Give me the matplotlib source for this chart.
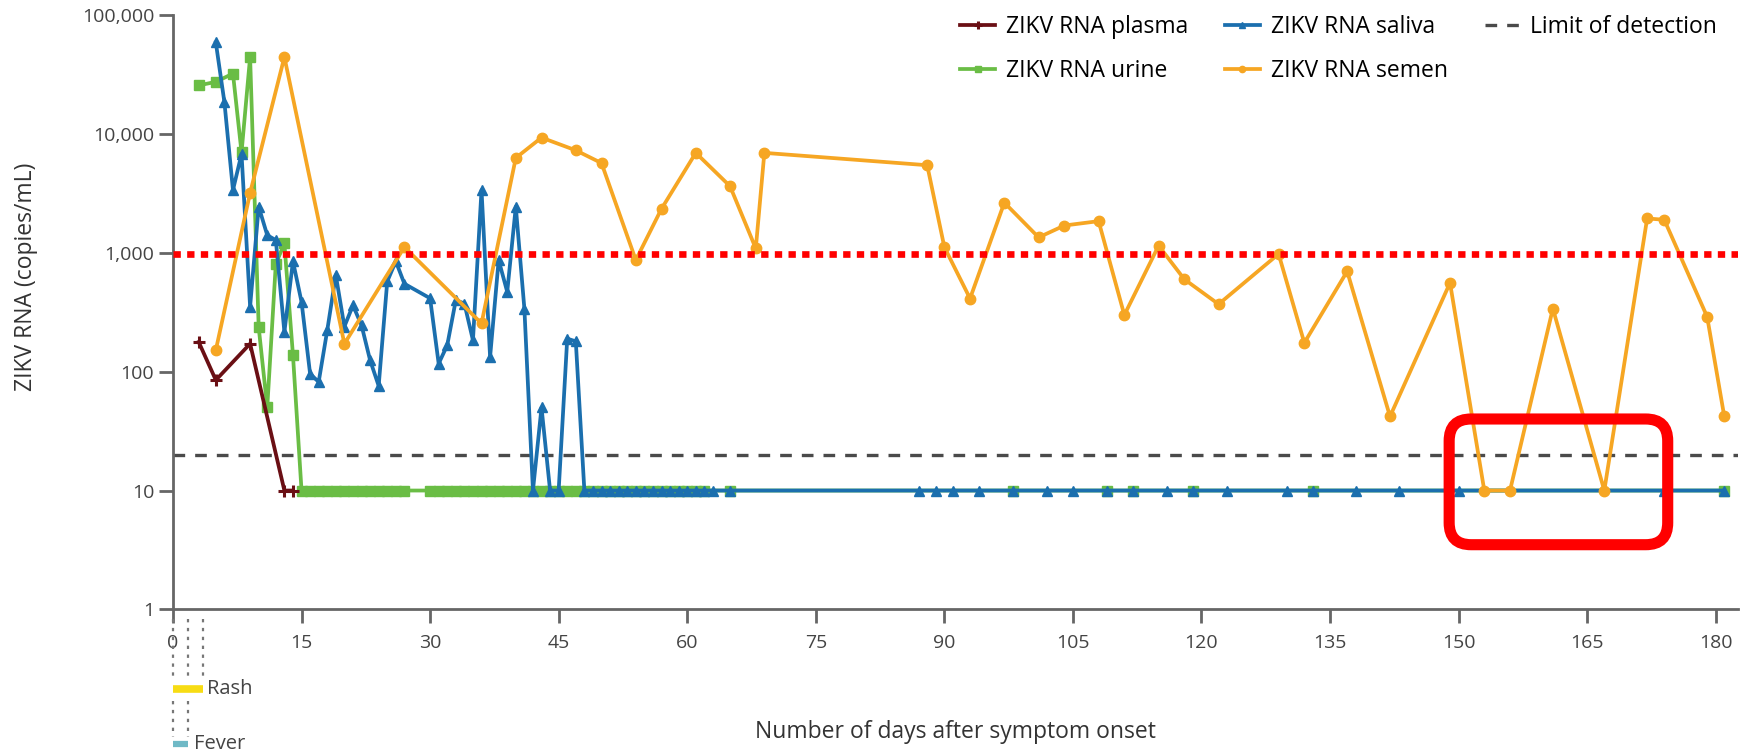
import matplotlib.pyplot as plt
from matplotlib.patches import FancyBboxPatch
from matplotlib.ticker import FixedLocator, FuncFormatter, NullLocator
import matplotlib.transforms as mtransforms

plt.rcParams['font.family'] = ['Open Sans', 'DejaVu Sans']

# data (days after symptom onset, copies/mL)
plasma_days = [3, 5, 9, 13, 14]
plasma_vals = [178, 85, 172, 10, 10]

urine_days = [3, 5, 7, 8, 9, 10, 11, 12, 13, 14,
              15, 16, 17, 18, 19, 20, 21, 22, 23, 24, 25, 26, 27,
              30, 31, 32, 33, 34, 35, 36, 37, 38, 39, 40, 41, 42, 43, 44, 45,
              46, 47, 48, 49, 50, 51, 52, 53, 54, 55, 56, 57, 58, 59, 60, 61, 62,
              65, 98, 109, 112, 119, 133, 181]
urine_vals = [25700, 27500, 32300, 7000, 44500, 237, 50, 810, 1200, 138] + [10] * 53

saliva_days = [5, 6, 7, 8, 9, 10, 11, 12, 13, 14, 15, 16, 17, 18, 19, 20, 21, 22,
               23, 24, 25, 26, 27, 30, 31, 32, 33, 34, 35, 36, 37, 38, 39, 40, 41,
               42, 43, 44, 45, 46, 47,
               48, 49, 50, 51, 52, 53, 54, 55, 56, 57, 58, 59, 60, 61, 62, 63, 65,
               87, 89, 91, 94, 98, 102, 105, 109, 112, 116, 119, 123, 130, 133,
               138, 143, 150, 174, 181]
saliva_vals = [59000, 18600, 3380, 6800, 353, 2450, 1410, 1280, 216, 850, 387, 96,
               82, 223, 650, 240, 362, 246, 125, 76, 575, 850, 550, 415, 117, 167,
               400, 375, 184, 3380, 133, 870, 470, 2450, 340,
               10, 50, 10, 10, 190, 180] + [10] * 36

semen_days = [5, 9, 13, 20, 27, 36, 40, 43, 47, 50, 54, 57, 61, 65, 68, 69, 88,
              90, 93, 97, 101, 104, 108, 111, 115, 118, 122, 129, 132, 137, 142,
              149, 153, 156, 161, 167, 172, 174, 179, 181]
semen_vals = [152, 3200, 44500, 172, 1120, 255, 6300, 9340, 7300, 5700, 870, 2350,
              6950, 3640, 1090, 6950, 5470, 1120, 413, 2650, 1350, 1700, 1850, 300,
              1150, 600, 370, 980, 175, 700, 42, 560, 10, 10, 340, 10, 1950, 1900,
              290, 42]

limit_of_detection = 20
red_threshold = 970
rash_days = (0, 3.5)
fever_days = (0, 1.8)
highlight_days = (148.9, 174.4)
highlight_vals = (3.5, 40)

fig = plt.figure(figsize=(17.65, 7.52), dpi=100)
ax = fig.add_axes([0.098, 0.1897, 0.8867, 0.790])

ax.plot(urine_days, urine_vals, color='#6abd45', lw=2.7, marker='s', ms=7,
        label='ZIKV RNA urine', zorder=3)
ax.plot(saliva_days, saliva_vals, color='#1b6fae', lw=2.7, marker='^', ms=7,
        label='ZIKV RNA saliva', zorder=4)
ax.plot(plasma_days, plasma_vals, color='#6a0f14', lw=2.7, marker='+', ms=9,
        mew=2.2, label='ZIKV RNA plasma', zorder=5)
ax.plot(semen_days, semen_vals, color='#f6a623', lw=2.7, marker='o', ms=7.5,
        label='ZIKV RNA semen', zorder=6)
ax.axhline(limit_of_detection, color='#4a4a4a', lw=2.4, ls=(0, (3.5, 3)),
           label='Limit of detection', zorder=2)
ax.axhline(red_threshold, color='#ff0000', lw=4.8, ls=(0, (1.1, 0.95)), zorder=7)

ax.set_yscale('log')
ax.set_ylim(1, 100000)
ax.set_xlim(0, 182.6)
ax.yaxis.set_major_locator(FixedLocator([1, 10, 100, 1000, 10000, 100000]))
ax.yaxis.set_minor_locator(NullLocator())
ax.yaxis.set_major_formatter(FuncFormatter(lambda v, p: f'{v:,.0f}'))
ax.set_xticks(range(0, 181, 15))

for s in ['top', 'right']:
    ax.spines[s].set_visible(False)
for s in ['left', 'bottom']:
    ax.spines[s].set_color('#666666')
    ax.spines[s].set_linewidth(2)
ax.tick_params(axis='both', colors='#666666', width=2, length=10,
               labelcolor='#444444', labelsize=14)
ax.tick_params(axis='x', pad=8)

ax.set_xlabel('Number of days after symptom onset', fontsize=16.5, color='#333333')
ax.set_ylabel('ZIKV RNA (copies/mL)', fontsize=16.5, color='#333333')
ax.xaxis.set_label_coords(0.5, -0.187)
ax.yaxis.set_label_coords(-0.086, 0.56)

handles, labels = ax.get_legend_handles_labels()
order = ['ZIKV RNA plasma', 'ZIKV RNA urine', 'ZIKV RNA saliva',
         'ZIKV RNA semen', 'Limit of detection']
hmap = dict(zip(labels, handles))
ax.legend([hmap[k] for k in order], order, ncol=3, loc='upper right',
          bbox_to_anchor=(1.0, 1.035), frameon=False, fontsize=16.5,
          handlelength=1.5, markerscale=0.6, columnspacing=1.6,
          labelspacing=0.85, handletextpad=0.5)

# rash / fever bars below the axis
trans = mtransforms.blended_transform_factory(ax.transData, ax.transAxes)
for d in [rash_days[0], fever_days[1], rash_days[1]]:
    ax.plot([d, d], [-0.016, -0.113], transform=trans, clip_on=False,
            color='#777777', lw=1.6, ls=(0, (1.5, 2.5)))
for d in [fever_days[0], fever_days[1]]:
    ax.plot([d, d], [-0.155, -0.215], transform=trans, clip_on=False,
            color='#777777', lw=1.6, ls=(0, (1.5, 2.5)))
ax.plot(rash_days, [-0.134, -0.134], transform=trans, clip_on=False,
        color='#f7dc14', lw=5.5, solid_capstyle='butt')
ax.plot(fever_days, [-0.227, -0.227], transform=trans, clip_on=False,
        color='#6fb9c6', lw=4.5, solid_capstyle='butt')
ax.text(rash_days[1] + 0.5, -0.134, 'Rash', transform=trans, fontsize=14.5,
        va='center', ha='left', color='#444444')
ax.text(fever_days[1] + 0.6, -0.227, 'Fever', transform=trans, fontsize=14.5,
        va='center', ha='left', color='#444444')

# red highlight box
(x0, y0), (x1, y1) = ax.transData.transform(
    [(highlight_days[0], highlight_vals[0]), (highlight_days[1], highlight_vals[1])])
box = FancyBboxPatch((x0, y0), x1 - x0, y1 - y0,
                     boxstyle='round,pad=0,rounding_size=22',
                     transform=mtransforms.IdentityTransform(),
                     fill=False, edgecolor='#ff0000', lw=8, zorder=10)
fig.add_artist(box)

fig.savefig('out.png', dpi=100)
